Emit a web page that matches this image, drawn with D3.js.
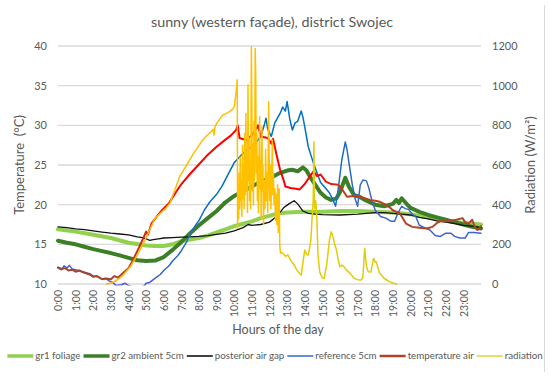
<!DOCTYPE html>
<html>
<head>
<meta charset="utf-8">
<script src="https://cdn.jsdelivr.net/npm/d3@7"></script>
<style>
  html, body { margin: 0; padding: 0; background: #fff; }
  svg { display: block; font-family: Lato, "Open Sans", sans-serif; }
</style>
</head>
<body>
<svg id="chart"></svg>
<script>
// sunny (western façade), district Swojec — daily course of temperatures (left) and radiation (right)

const hourLabels = d3.range(0, 24).map(h => h + ":00");
const tempTicks = [10, 15, 20, 25, 30, 35, 40];
const radTicks = [0, 200, 400, 600, 800, 1000, 1200];

// [hour, °C]
const gr1Foliage = [[0,16.9],[1,16.6],[2,16.2],[3,15.8],[4,15.2],[5,14.85],[5.5,14.8],[6,14.8],[6.5,15.0],[7,15.4],
  [7.5,15.6],[8,15.8],[8.5,16.1],[9,16.5],[9.5,16.9],[10,17.3],[10.5,17.6],[11,17.9],[11.5,18.3],[12,18.6],
  [12.5,18.9],[13,19.0],[14,19.1],[15,19.1],[16,19.2],[17,19.2],[18,19.1],[19,19.0],[20,18.8],[21,18.4],
  [22,18.0],[23,17.7],[24,17.5]];

const gr2Ambient = [[0,15.45],[0.5,15.2],[1,15.0],[1.5,14.7],[2,14.4],[2.5,14.15],[3,13.9],[3.5,13.6],[4,13.3],
  [4.5,13.0],[5,12.9],[5.5,12.95],[6,13.4],[6.5,14.3],[7,15.3],[7.5,16.4],[8,17.4],[8.5,18.3],[9,19.2],[9.5,20.3],
  [10,21.1],[10.5,21.7],[11,22.3],[11.5,22.9],[12,23.3],[12.5,23.9],[13,24.3],[13.3,24.4],[13.6,24.2],[13.9,24.7],
  [14.1,24.3],[14.3,23.5],[14.6,22.5],[14.9,21.5],[15.2,20.9],[15.5,20.6],[15.8,20.8],[16.0,21.6],[16.3,23.4],
  [16.5,22.3],[16.8,21.2],[17.1,21.0],[17.5,20.5],[18,20.0],[18.5,19.8],[19,20.1],[19.2,20.6],[19.35,20.2],
  [19.5,20.8],[19.7,20.3],[20,19.6],[20.5,19.1],[21,18.7],[21.5,18.4],[22,18.1],[22.5,17.8],[23,17.5],[23.5,17.2],[24,17.0]];

const posteriorAirGap = [[0,17.2],[0.5,17.1],[1,16.95],[1.5,16.85],[2,16.7],[2.5,16.55],[3,16.4],[3.5,16.3],[4,16.2],
  [4.5,15.95],[4.8,15.85],[5,15.7],[5.2,15.5],[5.4,15.6],[5.7,15.7],[6,15.8],[6.5,15.85],[7,15.9],[7.5,15.95],[8,16.0],
  [8.5,16.1],[9,16.25],[9.5,16.4],[10,16.7],[10.5,17.1],[10.8,17.5],[11,17.4],[11.5,17.5],[12,17.8],[12.4,18.5],
  [12.8,19.6],[13.1,20.1],[13.4,20.5],[13.6,20.1],[13.9,19.2],[14.2,18.9],[14.6,18.8],[15,18.75],[16,18.7],[17,18.8],
  [18,19.0],[18.5,19.0],[19,18.9],[19.5,18.8],[20,18.7],[20.5,18.4],[21,18.2],[21.5,17.95],[22,17.8],[22.5,17.6],
  [23,17.4],[23.5,17.3],[24,17.1]];

const reference5cm = [[0,12.0],[0.2,11.8],[0.35,12.3],[0.5,12.0],[0.65,12.35],[0.8,11.9],[1,11.8],[1.3,11.6],[1.5,11.5],
  [1.8,11.3],[2,11.0],[2.3,10.9],[2.5,10.6],[2.7,10.7],[2.9,10.4],[3.1,10.2],[3.3,9.8],[3.6,9.9],[3.8,10.1],[4.0,9.8],
  [4.3,9.6],[4.6,9.5],[4.9,9.8],[5.0,10.1],[5.2,10.2],[5.5,10.7],[5.8,11.2],[6,11.7],[6.3,12.3],[6.5,12.9],[6.8,13.6],
  [7,14.2],[7.3,15.3],[7.5,16.4],[7.8,17.4],[8,18.0],[8.3,19.3],[8.6,20.3],[9,21.3],[9.3,22.3],[9.6,23.6],[10,25.3],
  [10.3,26.0],[10.6,26.7],[11,27.3],[11.3,28.0],[11.5,28.6],[11.7,30.0],[11.8,30.9],[11.9,29.5],[12.1,28.6],[12.3,30.3],
  [12.45,30.9],[12.6,31.5],[12.75,32.3],[12.9,31.8],[13.0,33.0],[13.15,30.8],[13.3,29.4],[13.45,30.3],[13.6,30.5],
  [13.8,31.8],[13.9,31.0],[14.0,29.8],[14.2,27.3],[14.4,25.9],[14.5,25.2],[14.7,24.0],[14.9,22.8],[15.1,22.3],
  [15.4,21.5],[15.6,20.6],[15.75,19.8],[15.9,22.0],[16.1,25.6],[16.3,27.9],[16.4,26.9],[16.5,25.4],[16.7,22.5],
  [16.85,20.8],[17.0,19.8],[17.15,22.5],[17.3,23.1],[17.5,23.0],[17.65,22.0],[17.8,20.6],[18.0,19.3],[18.3,18.5],
  [18.6,18.3],[18.9,17.9],[19.1,17.9],[19.3,19.0],[19.5,19.8],[19.7,19.5],[19.9,19.4],[20.1,18.8],[20.3,18.5],
  [20.5,17.4],[20.8,17.1],[21.1,16.8],[21.4,16.1],[21.7,16.0],[22,16.4],[22.3,16.4],[22.5,16.0],[22.8,15.8],
  [23.1,15.8],[23.3,16.5],[23.6,16.5],[24,16.4]];

const temperatureAir = [[0,12.1],[0.2,11.9],[0.4,12.0],[0.6,11.7],[0.8,11.8],[1,11.55],[1.2,11.7],[1.5,11.4],[1.8,11.2],
  [2,10.9],[2.2,11.0],[2.5,10.6],[2.7,10.7],[3,10.6],[3.2,11.0],[3.4,10.8],[3.6,11.2],[3.8,11.6],[4,12.0],[4.2,12.8],
  [4.4,13.7],[4.6,14.6],[4.8,15.6],[5,16.6],[5.1,16.2],[5.3,17.6],[5.6,18.5],[5.9,19.3],[6.3,20.2],[6.7,21.6],[7,22.6],
  [7.5,23.9],[8,25.1],[8.5,26.3],[9,27.3],[9.5,28.2],[9.8,28.7],[10.1,29.4],[10.2,30.0],[10.3,28.4],[10.7,28.1],
  [11,28.8],[11.2,29.4],[11.35,30.0],[11.5,28.6],[11.9,28.4],[12.1,27.7],[12.2,28.3],[12.4,26.3],[12.6,24.4],
  [12.8,23.1],[12.9,22.3],[13.2,22.1],[13.5,22.0],[13.7,21.9],[14.0,22.6],[14.3,23.6],[14.5,24.2],[14.7,23.6],
  [14.9,23.8],[15.2,22.9],[15.5,22.6],[15.9,22.5],[16.1,22.0],[16.4,21.0],[16.8,21.1],[17.1,21.0],[17.4,20.8],
  [17.7,20.6],[18.0,20.5],[18.2,20.4],[18.6,20.0],[18.8,19.7],[19.0,19.3],[19.4,18.9],[19.75,17.6],[20.1,17.2],
  [20.5,17.1],[20.9,17.0],[21.25,17.2],[21.5,17.7],[21.7,17.9],[22.2,17.9],[22.6,18.1],[22.95,18.3],[23.1,17.8],
  [23.3,17.6],[23.5,18.1],[23.65,17.2],[23.8,16.8],[24,17.3]];

// [hour, W/m²]
const radiation = [[2.75,0],[3.0,5],[3.2,12],[3.5,30],[3.7,45],[4.1,87],[4.45,138],[4.8,197],[5.2,272],[5.5,331],
  [5.9,364],[6.1,380],[6.35,407],[6.63,474],[6.9,541],[7.1,570],[7.3,600],[7.5,630],[7.7,660],[8.05,705],[8.2,725],
  [8.4,745],[8.6,760],[8.8,780],[8.85,750],[8.9,790],[9.0,810],[9.2,835],[9.35,852],[9.5,858],[9.75,870],[9.9,880],
  [10.0,894],[10.1,961],[10.17,1030],
  [10.19,280],[10.22,470],[10.25,330],[10.28,560],[10.31,380],[10.34,640],[10.37,420],[10.40,520],[10.43,340],
  [10.47,700],[10.50,430],[10.53,600],[10.56,380],[10.60,760],[10.63,450],[10.66,860],[10.69,470],[10.72,640],
  [10.75,360],[10.78,1005],[10.81,520],[10.84,740],[10.87,420],[10.90,600],[10.93,380],[10.97,1196],[11.00,880],
  [11.03,470],[11.06,700],[11.09,400],[11.12,820],[11.15,520],[11.19,1188],[11.22,1050],[11.25,560],[11.28,760],
  [11.31,420],[11.34,640],[11.37,360],[11.40,560],[11.44,843],[11.47,480],[11.50,620],[11.53,330],[11.57,793],
  [11.60,470],[11.63,600],[11.66,300],[11.70,520],[11.74,380],[11.78,680],[11.82,420],[11.86,560],[11.90,360],
  [11.95,919],[11.98,640],[12.01,420],[12.05,600],[12.08,380],[12.12,520],[12.16,726],[12.19,450],[12.22,560],
  [12.26,400],[12.30,480],[12.34,320],[12.38,450],[12.42,300],[12.46,500],[12.50,260],[12.55,480],[12.58,200],
  [12.62,155],[12.7,160],[12.9,140],[13.05,146],[13.2,120],[13.4,96],[13.55,70],[13.7,54],[13.8,45],[13.9,110],
  [14.0,171],[14.1,150],[14.2,146],[14.35,222],[14.42,340],[14.48,420],[14.52,717],[14.56,380],[14.62,420],
  [14.68,350],[14.75,150],[14.85,60],[15.0,30],[15.1,29],[15.25,100],[15.4,220],[15.5,264],[15.6,240],[15.7,200],
  [15.8,171],[15.9,120],[16.0,87],[16.1,95],[16.2,90],[16.35,71],[16.5,60],[16.65,45],[16.8,29],[17.0,22],[17.2,20],
  [17.3,35],[17.4,180],[17.5,90],[17.6,62],[17.75,60],[17.9,129],[18.0,110],[18.05,113],[18.25,54],[18.4,40],
  [18.5,29],[18.8,12],[19.0,5],[19.2,0]];

(function () {
  const W = 550, H = 377;
  const M = { top: 46, right: 69, bottom: 93, left: 58 };
  const TEXT = "#595959";
  const GRID = "#d9d9d9";

  const svg = d3.select("#chart").attr("width", W).attr("height", H);

  const x = d3.scaleLinear().domain([0, 24]).range([M.left, W - M.right]);
  const yT = d3.scaleLinear().domain([10, 40]).range([H - M.bottom, M.top]);
  const yR = d3.scaleLinear().domain([0, 1200]).range([H - M.bottom, M.top]);

  const series = [
    { name: "gr1 foliage",       data: gr1Foliage,      y: yT, width: 4,    color: "#92d050", legend: "#92d050" },
    { name: "gr2 ambient 5cm",   data: gr2Ambient,      y: yT, width: 4,    color: "#3d7f26", legend: "#3d7f26" },
    { name: "posterior air gap", data: posteriorAirGap, y: yT, width: 1.3,  color: "#111111", legend: "#111111" },
    { name: "reference 5cm",     data: reference5cm,    y: yT, width: 1.5,  grad: "gBlue",  legend: "#4472c4" },
    { name: "temperature air",   data: temperatureAir,  y: yT, width: 2,    grad: "gRed",   legend: "#b0442a" },
    { name: "radiation",         data: radiation,       y: yR, width: 1.5,  grad: "gYel",   legend: "#dcd64a" }
  ];

  // Excel-style gradient line colours along the day
  const defs = svg.append("defs");
  const grads = {
    gBlue: [[0, "#5a5ade"], [0.2, "#4a58d6"], [0.3, "#1f6ec8"], [0.4, "#0070c0"], [0.62, "#0070c0"], [0.72, "#3a68cc"], [1, "#4060d4"]],
    gRed:  [[0, "#a0462e"], [0.16, "#a8442a"], [0.22, "#e21a12"], [0.27, "#ff0000"], [0.6, "#ff0000"], [0.68, "#b8401f"], [1, "#a8472a"]],
    gYel:  [[0, "#ffb000"], [0.2, "#ffb800"], [0.3, "#ffc000"], [0.52, "#ffc000"], [0.56, "#e4cc00"], [1, "#d4cf1a"]]
  };
  Object.entries(grads).forEach(([id, stops]) => {
    const lg = defs.append("linearGradient").attr("id", id)
      .attr("gradientUnits", "userSpaceOnUse")
      .attr("x1", x(0)).attr("x2", x(24)).attr("y1", 0).attr("y2", 0);
    stops.forEach(s => lg.append("stop").attr("offset", s[0]).attr("stop-color", s[1]));
  });
  defs.append("clipPath").attr("id", "plotClip")
    .append("rect")
    .attr("x", x(0) - 2).attr("y", M.top - 3)
    .attr("width", x(24) - x(0) + 4).attr("height", yT(10) - M.top + 4.5);

  // title
  svg.append("text")
    .attr("x", 272).attr("y", 27)
    .attr("text-anchor", "middle")
    .attr("font-size", 14.3)
    .attr("fill", TEXT)
    .text("sunny (western façade), district Swojec");

  // gridlines
  svg.append("g").selectAll("line").data(tempTicks).enter()
    .append("line")
    .attr("x1", x(0)).attr("x2", x(24))
    .attr("y1", d => yT(d)).attr("y2", d => yT(d))
    .attr("stroke", GRID).attr("stroke-width", 1.3);

  // left axis
  const axL = svg.append("g").attr("transform", `translate(${x(0)},0)`)
    .call(d3.axisLeft(yT).tickValues(tempTicks).tickSize(0).tickPadding(11).tickFormat(d3.format("d")));
  axL.select(".domain").remove();
  axL.selectAll("text").attr("font-size", 11).attr("font-family", "Lato").attr("fill", TEXT);

  // right axis
  const axR = svg.append("g").attr("transform", `translate(${x(24)},0)`)
    .call(d3.axisRight(yR).tickValues(radTicks).tickSize(0).tickPadding(11).tickFormat(d3.format("d")));
  axR.select(".domain").remove();
  axR.selectAll("text").attr("font-size", 11).attr("font-family", "Lato").attr("fill", TEXT);

  // bottom axis (hour categories, rotated)
  const axB = svg.append("g").attr("transform", `translate(0,${yT(10)})`)
    .call(d3.axisBottom(x).tickValues(d3.range(0, 24)).tickSize(0).tickFormat(i => hourLabels[i]));
  axB.select(".domain").remove();
  axB.selectAll("text")
    .attr("font-size", 10.5).attr("font-family", "Lato").attr("fill", TEXT)
    .attr("transform", "rotate(-90)")
    .attr("text-anchor", "end")
    .attr("x", -6).attr("y", 0).attr("dy", "0.35em");

  // axis titles
  svg.append("text")
    .attr("transform", `translate(24,${(yT(10) + M.top) / 2}) rotate(-90)`)
    .attr("text-anchor", "middle")
    .attr("font-size", 13).attr("fill", TEXT)
    .attr("xml:space", "preserve")
    .text("Temperature  (°C)");

  svg.append("text")
    .attr("transform", `translate(535,${(yT(10) + M.top) / 2}) rotate(-90)`)
    .attr("text-anchor", "middle")
    .attr("font-size", 13).attr("fill", TEXT)
    .text("Radiation (W/m²)");

  svg.append("text")
    .attr("x", 278).attr("y", 334)
    .attr("text-anchor", "middle")
    .attr("font-size", 12.5).attr("fill", TEXT)
    .text("Hours of the day");

  // series
  const plot = svg.append("g").attr("clip-path", "url(#plotClip)");
  series.forEach(s => {
    const line = d3.line().x(d => x(d[0])).y(d => s.y(d[1]));
    plot.append("path")
      .datum(s.data)
      .attr("d", line)
      .attr("fill", "none")
      .attr("stroke", s.grad ? `url(#${s.grad})` : s.color)
      .attr("stroke-width", s.width)
      .attr("stroke-linejoin", "round")
      .attr("stroke-linecap", "round");
  });

  // legend, laid out left to right; font shrunk so the row spans the reference width (x 7..543)
  const LINE_W = 26, GAP_IN = 2, GAP_OUT = 3, SPAN = 536;
  const leg = svg.append("g");
  const items = series.map(s => {
    const it = leg.append("g");
    it.append("line")
      .attr("x1", 0).attr("x2", LINE_W).attr("y1", 0).attr("y2", 0)
      .attr("stroke", s.legend)
      .attr("stroke-width", s.width >= 4 ? 3.5 : (s.width >= 2 ? 2.5 : 1.6));
    const t = it.append("text")
      .attr("x", LINE_W + GAP_IN).attr("y", 0).attr("dy", "0.35em")
      .attr("font-size", 10).attr("fill", TEXT)
      .text(s.name);
    return { it, t };
  });
  const textW = d3.sum(items, d => d.t.node().getComputedTextLength());
  const fixedW = items.length * (LINE_W + GAP_IN) + (items.length - 1) * GAP_OUT;
  const fs = Math.min(11, 10 * (SPAN - fixedW) / textW);
  let lx = 0;
  items.forEach(d => {
    d.t.attr("font-size", fs);
    d.it.attr("transform", `translate(${lx},0)`);
    lx += LINE_W + GAP_IN + d.t.node().getComputedTextLength() + GAP_OUT;
  });
  leg.attr("transform", `translate(${275 - (lx - GAP_OUT) / 2},356)`);

  // chart frame edge
  svg.append("line")
    .attr("x1", 544.5).attr("x2", 544.5).attr("y1", 5).attr("y2", 372)
    .attr("stroke", GRID).attr("stroke-width", 1);
})();
</script>
</body>
</html>
